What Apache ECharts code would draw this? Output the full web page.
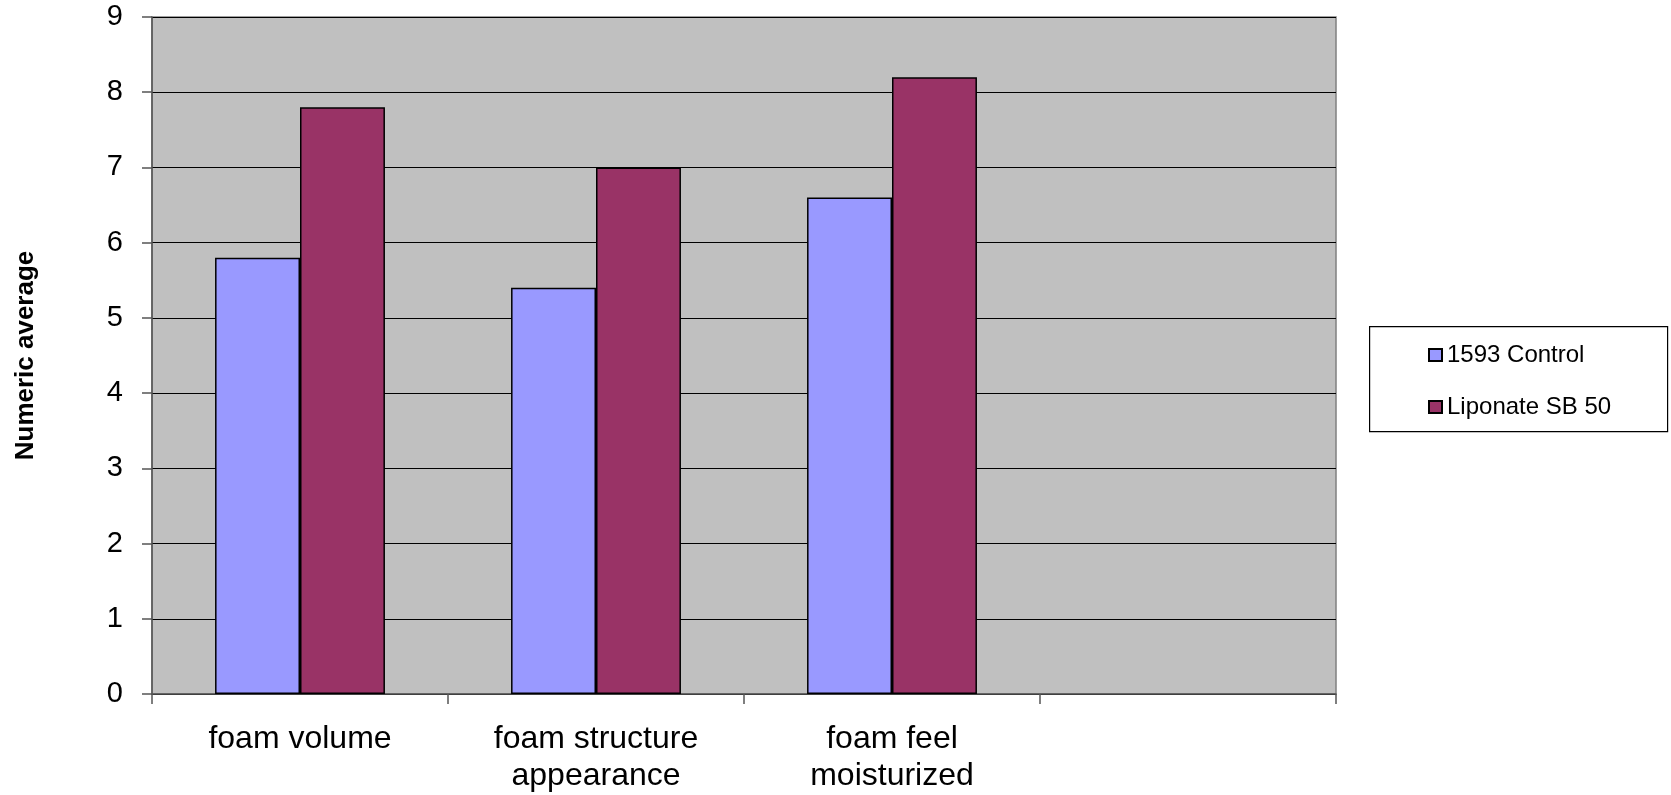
<!DOCTYPE html>
<html>
<head>
<meta charset="utf-8">
<script src="https://cdn.jsdelivr.net/npm/echarts@6/dist/echarts.min.js"></script>
<style>
html,body{margin:0;padding:0;background:#fff;}
#chart{width:1671px;height:795px;}
</style>
</head>
<body>
<div id="chart"></div>
<script>
const categories = ['foam volume', 'foam structure\nappearance', 'foam feel\nmoisturized', ''];
const controlValues = [5.8, 5.4, 6.6, null];
const liponateValues = [7.8, 7.0, 8.2, null];
const seriesNames = ['1593 Control', 'Liponate SB 50'];
const yTicks = { min: 0, max: 9, interval: 1 };

const chart = echarts.init(document.getElementById('chart'));
const font = 'Liberation Sans, Arial, sans-serif';
chart.setOption({
  animation: false,
  backgroundColor: '#ffffff',
  grid: {
    left: 152, top: 17, width: 1184, height: 686,
    show: true, backgroundColor: '#C0C0C0', borderColor: '#808080', borderWidth: 1.5,
    containLabel: false
  },
  graphic: [{
    type: 'rect', left: 1369, top: 326, z: 0,
    shape: { width: 298, height: 105 },
    style: { fill: '#ffffff', stroke: '#000000', lineWidth: 1.2 }
  }],
  legend: {
    orient: 'vertical', left: 1423, top: 338, z: 10,
    itemWidth: 13, itemHeight: 12, itemGap: 28,
    icon: 'rect',
    textStyle: { fontFamily: font, fontSize: 24, lineHeight: 24, color: '#000' },
    data: seriesNames
  },
  xAxis: {
    type: 'category', data: categories,
    axisLine: { show: true, lineStyle: { color: '#555555', width: 1.5 } },
    axisTick: { show: true, length: 10, alignWithLabel: false, lineStyle: { color: '#555555', width: 1.5 } },
    axisLabel: { fontFamily: font, fontSize: 32, color: '#000', margin: 27, lineHeight: 37, interval: 0 },
    splitLine: { show: false }
  },
  yAxis: {
    type: 'value', min: yTicks.min, max: yTicks.max, interval: yTicks.interval,
    name: 'Numeric average', nameLocation: 'middle', nameGap: 113, nameRotate: 90,
    nameTextStyle: { fontFamily: font, fontSize: 26, fontWeight: 'bold', color: '#000' },
    axisLine: { show: true, lineStyle: { color: '#555555', width: 1.5 } },
    axisTick: { show: true, length: 10, lineStyle: { color: '#555555', width: 1.5 } },
    axisLabel: { fontFamily: font, fontSize: 29, color: '#000', margin: 29 },
    splitLine: { show: true, lineStyle: { color: '#000000', width: 1 } }
  },
  series: [
    {
      name: seriesNames[0], type: 'bar', data: controlValues,
      barWidth: '28.7%', barGap: '0%',
      itemStyle: { color: '#9999FF', borderColor: '#000000', borderWidth: 1.5 }
    },
    {
      name: seriesNames[1], type: 'bar', data: liponateValues,
      barWidth: '28.7%', barGap: '0%',
      itemStyle: { color: '#993366', borderColor: '#000000', borderWidth: 1.5 }
    }
  ]
});
</script>
</body>
</html>
